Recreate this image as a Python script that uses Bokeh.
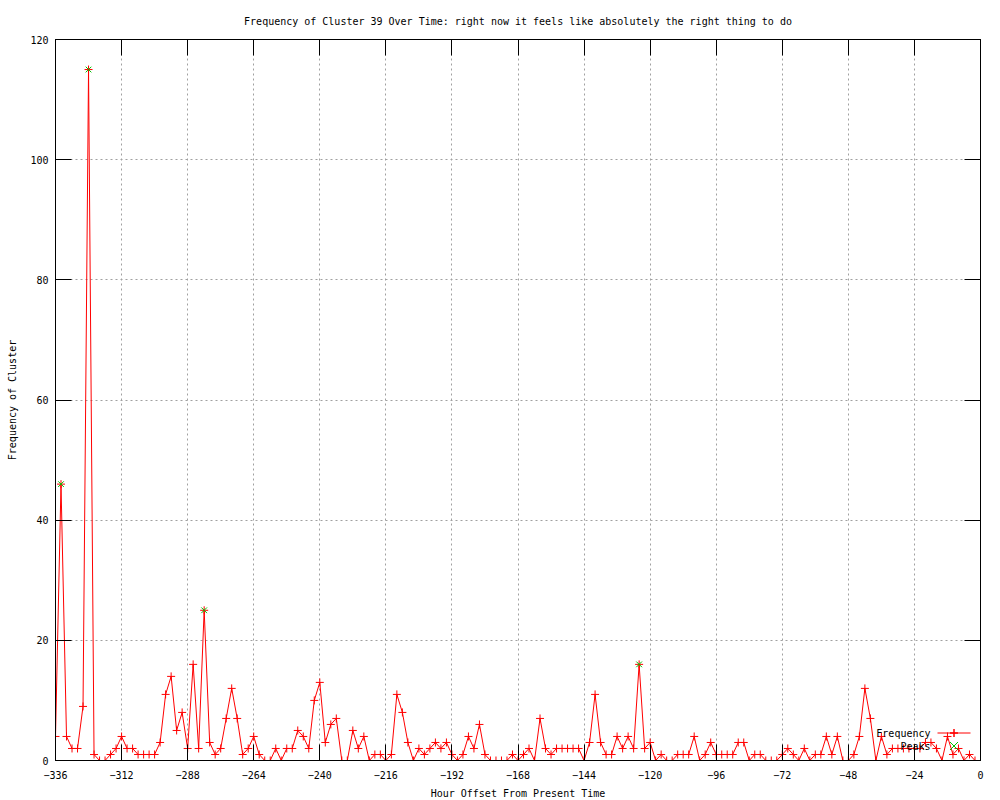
from bokeh.plotting import figure
from bokeh.models import Range1d, FixedTicker, LinearAxis, Label, PolyAnnotation, CustomJSTickFormatter
from bokeh.embed import file_html
from bokeh.resources import INLINE

# ---- data ----
hours = list(range(-336, 0, 2))
frequency = [
    4, 46, 4, 2, 2, 9, 115, 1, 0, 0, 1, 2, 4, 2, 2, 1, 1, 1, 1, 3,
    11, 14, 5, 8, 2, 16, 2, 25, 3, 1, 2, 7, 12, 7, 1, 2, 4, 1, 0, 0,
    2, 0, 2, 2, 5, 4, 2, 10, 13, 3, 6, 7, 0, 0, 5, 2, 4, 0, 1, 1,
    0, 1, 11, 8, 3, 0, 2, 1, 2, 3, 2, 3, 1, 0, 1, 4, 2, 6, 1, 0,
    0, 0, 0, 1, 0, 1, 2, 0, 7, 2, 1, 2, 2, 2, 2, 2, 0, 3, 11, 3,
    1, 1, 4, 2, 4, 2, 16, 2, 3, 0, 1, 0, 0, 1, 1, 1, 4, 0, 1, 3,
    1, 1, 1, 1, 3, 3, 0, 1, 1, 0, 0, 0, 1, 2, 1, 0, 2, 0, 1, 1,
    4, 1, 4, 0, 0, 1, 4, 12, 7, 0, 4, 1, 2, 2, 2, 2, 2, 2, 3, 3,
    2, 0, 4, 1, 2, 0, 1, 0,
]
peak_hours = [-334, -324, -282, -124]
peak_values = [46, 115, 25, 16]
x_ticks = [-336, -312, -288, -264, -240, -216, -192, -168, -144, -120, -96, -72, -48, -24, 0]
y_ticks = [0, 20, 40, 60, 80, 100, 120]

title_text = "Frequency of Cluster 39 Over Time: right now it feels like absolutely the right thing to do"
x_label = "Hour Offset From Present Time"
y_label = "Frequency of Cluster"

FONT = "DejaVu Sans Mono"
FS = "10px"
RED = "#ff0000"
GREEN = "#00c000"

p = figure(frame_width=925, frame_height=721,
           x_range=Range1d(-336, 0), y_range=Range1d(0, 120),
           output_backend="svg", toolbar_location=None,
           min_border_left=55, min_border_top=39, min_border_right=20, min_border_bottom=38,
           title=title_text)
p.background_fill_color = "white"
p.border_fill_color = "white"
p.outline_line_color = "black"
p.outline_line_width = 1

p.title.text_font = FONT
p.title.text_font_size = FS
p.title.text_font_style = "normal"
p.title.align = "center"
p.title.text_color = "black"
p.title.standoff = 25

for ax in (p.xaxis[0], p.yaxis[0]):
    ax.major_tick_in = 16
    ax.major_tick_out = 0
    ax.minor_tick_line_color = None
    ax.major_label_text_font = FONT
    ax.major_label_text_font_size = FS
    ax.major_label_text_color = "black"
    ax.axis_label_text_font = FONT
    ax.axis_label_text_font_size = FS
    ax.axis_label_text_font_style = "normal"
    ax.axis_label_text_color = "black"
    ax.axis_line_color = "black"
    ax.major_tick_line_color = "black"

p.xaxis.ticker = FixedTicker(ticks=x_ticks)
p.yaxis.ticker = FixedTicker(ticks=y_ticks)
p.xaxis.axis_label = x_label
p.yaxis.axis_label = y_label
p.xaxis.major_label_standoff = 10
p.xaxis.axis_label_standoff = 6
p.yaxis.major_label_standoff = 7
p.yaxis.axis_label_standoff = 9

blank = CustomJSTickFormatter(code="return ''")
for loc, ticks in (("right", y_ticks), ("above", x_ticks)):
    ax = LinearAxis(ticker=FixedTicker(ticks=ticks), formatter=blank,
                    major_tick_in=16, major_tick_out=0,
                    minor_tick_line_color=None, major_label_text_font_size="0px",
                    major_label_standoff=0, axis_line_color="black",
                    major_tick_line_color="black")
    p.add_layout(ax, loc)

p.xgrid.ticker = FixedTicker(ticks=x_ticks)
p.ygrid.ticker = FixedTicker(ticks=y_ticks)
for g in (p.xgrid[0], p.ygrid[0]):
    g.grid_line_color = "#a0a0a0"
    g.grid_line_dash = "2 3"
    g.grid_line_width = 1

p.line(hours, frequency, line_color=RED, line_width=1)
p.scatter(hours, frequency, marker="cross", size=8, line_color=RED, line_width=1)
p.scatter(peak_hours, peak_values, marker="x", size=8, line_color=GREEN, line_width=1)

# ---- legend (gnuplot style: text left of key) ----
def lab(txt, y):
    p.add_layout(Label(x=875, y=y, x_units="screen", y_units="screen", text=txt,
                       text_align="right", text_baseline="middle",
                       text_font=FONT, text_font_size=FS, text_color="black"))

lab("Frequency", 27)
lab("Peaks", 14)

def key(xs, ys, color):
    p.add_layout(PolyAnnotation(xs=xs, ys=ys, xs_units="screen", ys_units="screen",
                                line_color=color, line_alpha=1.0, fill_alpha=0,
                                fill_color=None, line_width=1))

cx, cy = 898.5, 27.5
key([882, 915], [cy, cy], RED)
key([cx - 4, cx + 4, cx, cx, cx, cx], [cy, cy, cy, cy + 4, cy - 4, cy], RED)
gx, gy = 898.5, 14.5
key([gx - 4, gx + 4, gx, gx - 4, gx + 4, gx], [gy - 4, gy + 4, gy, gy + 4, gy - 4, gy], GREEN)

open("out.html", "w").write(file_html(p, INLINE))
